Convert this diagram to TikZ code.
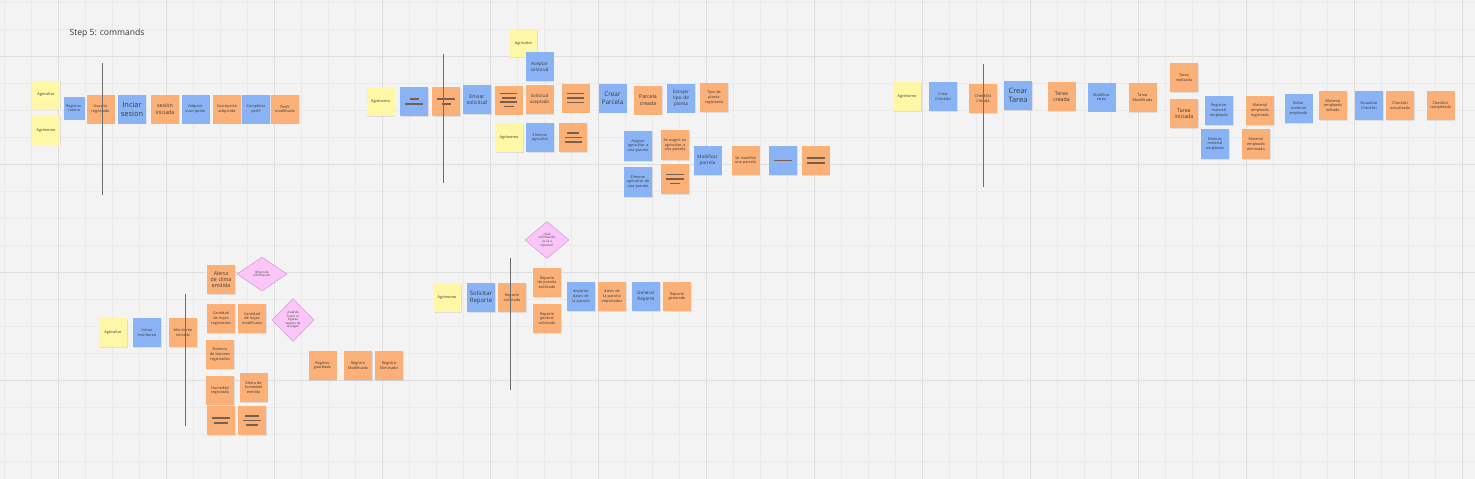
\documentclass[tikz,border=0pt]{standalone}
\usepackage{fontspec}
\setmainfont{Open Sans}
\usetikzlibrary{shapes.geometric,shadows}
\hyphenpenalty=10000
\exhyphenpenalty=10000

\definecolor{boardbg}{HTML}{F3F3F3}
\definecolor{gridminor}{HTML}{EAEAEA}
\definecolor{gridmajor}{HTML}{DEDEDE}
\definecolor{actorcol}{HTML}{FDF7A6}
\definecolor{cmdcol}{HTML}{8AB3F6}
\definecolor{evtcol}{HTML}{FBB077}
\definecolor{askfill}{HTML}{F9C6F7}
\definecolor{askdraw}{HTML}{D38ED0}
\definecolor{notetext}{HTML}{3A3A3A}
\definecolor{barcol}{HTML}{7A604C}
\definecolor{pivotcol}{HTML}{6E6E6E}

\newcommand{\fsnote}{\fontsize{3.8}{4.6}\selectfont}
\newcommand{\fsmid}{\fontsize{5.2}{6.4}\selectfont}
\newcommand{\fsbig}{\fontsize{7.4}{9}\selectfont}
\newcommand{\noteline}[1]{\textcolor{barcol}{\rule{#1pt}{1.7pt}}}

\tikzset{
  note/.style={minimum width=28pt, minimum height=29pt, inner sep=0.8pt,
    align=center, text width=25pt, font=\fsnote, text=notetext,
    drop shadow={shadow xshift=0.5pt, shadow yshift=-0.8pt, opacity=0.18}},
  actor/.style={note, fill=actorcol},
  cmd/.style={note, fill=cmdcol},
  evt/.style={note, fill=evtcol},
  bars/.style={font=\fontsize{3.4}{4.4}\selectfont},
  ask/.style={diamond, fill=askfill, draw=askdraw, line width=0.4pt,
    inner sep=0pt, align=center, font=\fontsize{3}{3.6}\selectfont, text=notetext},
  pivot/.style={draw=pivotcol, line width=0.8pt}
}

\begin{document}
\begin{tikzpicture}[x=1pt,y=-1pt]
  \useasboundingbox (0,0) rectangle (1475,479);
  % board
  \fill[boardbg] (0,0) rectangle (1475,479);
  \foreach \gx in {4,31,...,1475} \draw[gridminor,line width=0.6pt] (\gx,0) -- (\gx,479);
  \foreach \gy in {2,29,...,479} \draw[gridminor,line width=0.6pt] (0,\gy) -- (1475,\gy);
  \foreach \gx in {58,166,...,1475} \draw[gridmajor,line width=1pt] (\gx,0) -- (\gx,479);
  \foreach \gy in {56,164,...,479} \draw[gridmajor,line width=1pt] (0,\gy) -- (1475,\gy);

  \node[anchor=west, font=\fontsize{8.6}{10}\selectfont, text=notetext] (title) at (66,33) {Step 5: commands};

  % cuentas y sesion
  \node[actor] (agriA) at (46,95) {Agricultor};
  \node[actor] (agroA) at (46,130) {Agrónomo};
  \node[cmd, minimum width=21pt, minimum height=23pt, text width=19pt] (regcta) at (74,108) {Registrar cuenta};
  \node[evt] (usrreg) at (100.5,109) {Usuario registrado};
  \node[cmd, font=\fsbig] (inises) at (132,109) {Inciar\\sesion};
  \node[evt, font=\fsmid] (sesini) at (165,109) {sesión\\iniciada};
  \node[cmd] (adqsus) at (195.5,109) {Adquirir suscripción};
  \node[evt] (susadq) at (227,109) {Suscripción adquirida};
  \node[cmd] (comper) at (256,109) {Completar perfil};
  \node[evt] (permod) at (285,109) {Perfil modificado};
  \coordinate (pivA1) at (102,63);
  \coordinate (pivA2) at (102,195);
  \draw[pivot] (pivA1) -- (pivA2);

  % solicitudes y parcelas
  \node[actor] (agroB) at (380.5,101.5) {Agrónomo};
  \node[cmd, bars] (cmdB1) at (414,101.5) {\noteline{9}\\\noteline{18}};
  \node[evt, bars] (evtB1) at (446,101.5) {\noteline{18}\\\noteline{9}};
  \node[cmd, font=\fsmid] (envsol) at (477,99.5) {Enviar\\solicitud};
  \node[evt, bars] (evtB2) at (508.5,100) {\noteline{17}\\\noteline{14}\\\noteline{17}\\\noteline{10}};
  \node[evt, font=\fontsize{4.4}{5.6}\selectfont] (solace) at (539.5,99.5) {Solicitud aceptada};
  \node[evt, bars] (evtB3) at (575.5,98) {\noteline{17}\\\noteline{17}\\\noteline{17}};
  \node[actor, minimum width=27pt, minimum height=27pt] (agriB) at (523.5,43.5) {Agricultor};
  \node[cmd, font=\fontsize{4.6}{5.8}\selectfont] (acesol) at (539.5,66.5) {Aceptar solicitud};
  \node[actor] (agroC) at (509,137.5) {Agrónomo};
  \node[cmd] (eliagr) at (540,137.5) {Eliminar agricultor};
  \node[evt, bars] (evtB4) at (573,137.5) {\noteline{12}\\\noteline{17}\\\noteline{17}};
  \node[cmd, font=\fontsize{6.4}{7.8}\selectfont] (crepar) at (612.5,98) {Crear\\Parcela};
  \node[evt, font=\fsmid] (parcre) at (648,100) {Parcela\\creada};
  \node[cmd, font=\fontsize{4.8}{6}\selectfont] (esctip) at (681,98) {Escojer tipo de planta};
  \node[evt] (tipreg) at (714,97.5) {Tipo de planta registrada};
  \node[cmd, minimum height=30pt] (asiagr) at (638,146) {Asignar agricultor a una parcela};
  \node[evt, minimum height=30pt] (seasig) at (675,145) {Se asignó un agricultor a una parcela};
  \node[cmd, minimum height=30pt] (eliagp) at (638,182) {Eliminar agricultor de una parcela};
  \node[evt, bars, minimum height=30pt] (evtB5) at (675,179) {\noteline{18}\\\noteline{18}\\\noteline{10}};
  \node[cmd, font=\fontsize{4.6}{5.8}\selectfont] (modpar) at (707.5,160.5) {Modificar parcela};
  \node[evt] (semod) at (745.5,160.5) {Se modificó una parcela};
  \node[cmd, bars] (cmdB2) at (783,160.5) {\noteline{18}};
  \node[evt, bars] (evtB6) at (815.5,160.5) {\noteline{18}\\\noteline{18}};
  \coordinate (pivB1) at (443,54);
  \coordinate (pivB2) at (443,183);
  \draw[pivot] (pivB1) -- (pivB2);

  % checklist y tareas
  \node[actor] (agroD) at (907,96.5) {Agrónomo};
  \node[cmd] (crechk) at (943,96.5) {Crear Checklist};
  \node[evt, font=\fontsize{4}{5}\selectfont] (chkcre) at (983,98.5) {Checklist Creada};
  \node[cmd, font=\fsbig] (cretar) at (1018,95.5) {Crear\\Tarea};
  \node[evt, font=\fsmid] (tarcre) at (1061.5,96.5) {Tarea\\creada};
  \node[cmd] (modtar) at (1101.5,97) {Modificar tarea};
  \node[evt] (tarmod) at (1142.5,97.5) {Tarea Modificada};
  \node[evt] (tarrea) at (1184,77.5) {Tarea realizada};
  \node[evt, font=\fsmid] (tarini) at (1184,113.5) {Tarea\\iniciada};
  \node[cmd] (regmat) at (1219,110.5) {Registrar material empleado};
  \node[cmd, minimum height=30pt] (elimat) at (1215,144) {Eliminar material empleado};
  \node[evt] (matreg) at (1260,110.5) {Material empleado registrado};
  \node[evt, minimum height=30pt] (mateli) at (1256,144) {Material empleado eliminado};
  \node[cmd] (edimat) at (1298.5,108.5) {Editar material empleado};
  \node[evt] (matedi) at (1333,105.5) {Material empleado editado};
  \node[cmd] (actchk) at (1369,105.5) {Actualizar Checklist};
  \node[evt] (chkact) at (1400,105.5) {Checklist actualizada};
  \node[evt] (chkcom) at (1440.5,105.5) {Checklist completada};
  \coordinate (pivC1) at (983,64);
  \coordinate (pivC2) at (983,187);
  \draw[pivot] (pivC1) -- (pivC2);

  % monitoreo
  \node[actor] (agriE) at (113,332.5) {Agricultor};
  \node[cmd] (inimon) at (147,332.5) {Iniciar monitoreo};
  \node[evt] (monini) at (183,332.5) {Monitoreo iniciado};
  \node[evt, font=\fsmid] (aleclim) at (221,279.5) {Alerta\\de clima\\emitida};
  \node[ask, minimum width=50pt, minimum height=34pt] (orginf) at (262,274) {Origen de\\información};
  \node[evt] (canreg) at (221,318.5) {Cantidad de hojas registradas};
  \node[evt] (canmod) at (252,318.5) {Cantidad de hojas modificada};
  \node[ask, minimum width=42pt, minimum height=43pt] (cuaing) at (293,320) {¿Cuándo\\hacer el\\ingreso\\registro de\\la plaga?};
  \node[evt] (numbot) at (220,354.5) {Número de botones registrados};
  \node[evt] (humreg) at (220,390.5) {Humedad registrada};
  \node[evt] (alehum) at (253.5,387.5) {Alerta de humedad emitida};
  \node[evt, bars] (evtE1) at (221,420.5) {\noteline{18}\\\noteline{14}};
  \node[evt, bars] (evtE2) at (252,420.5) {\noteline{14}\\\noteline{18}\\\noteline{12}};
  \node[evt] (regguar) at (322.5,365.5) {Registro guardado};
  \node[evt] (regmod) at (358,365.5) {Registro Modificado};
  \node[evt] (regeli) at (389,365.5) {Registro Eliminado};
  \coordinate (pivD1) at (185,294);
  \coordinate (pivD2) at (185,426);
  \draw[pivot] (pivD1) -- (pivD2);

  % reportes
  \node[ask, minimum width=44pt, minimum height=37pt] (quinf) at (547,240) {¿Qué\\información\\se va a\\reportar?};
  \node[actor] (agroF) at (447,297.5) {Agrónomo};
  \node[cmd, font=\fontsize{6}{7.4}\selectfont] (solrep) at (481,297.5) {Solicitar\\Reporte};
  \node[evt] (repsol) at (512,297.5) {Reporte solicitado};
  \node[evt] (reppar) at (547,282.5) {Reporte de parcela solicitado};
  \node[evt] (repgen) at (547,318.5) {Reporte general solicitado};
  \node[cmd] (impdat) at (581,296.5) {Importar datos de la parcela};
  \node[evt] (datimp) at (612,296.5) {datos de la parcela importados};
  \node[cmd, font=\fontsize{4.6}{5.8}\selectfont] (genrep) at (646,296.5) {Generar Reporte};
  \node[evt] (repgnd) at (677,296.5) {Reporte generado};
  \coordinate (pivE1) at (510,258);
  \coordinate (pivE2) at (510,390);
  \draw[pivot] (pivE1) -- (pivE2);
\end{tikzpicture}
\end{document}
